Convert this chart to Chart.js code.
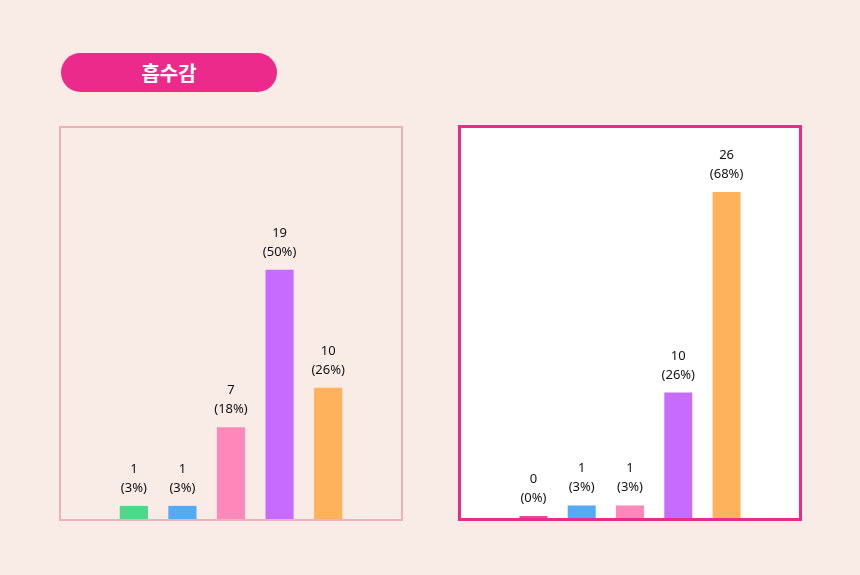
<!DOCTYPE html>
<html><head><meta charset="utf-8">
<script src="https://cdn.jsdelivr.net/npm/chart.js@4"></script>
<style>
body{margin:0;width:860px;height:575px;background:#f9ebe6;position:relative;overflow:hidden;font-family:"Noto Sans CJK KR","Noto Sans",sans-serif}
.pill{position:absolute;left:61px;top:53px;width:216px;height:39px;border-radius:20px;background:#ec2a8c;color:#fff;font-weight:bold;font-size:20px;line-height:39px;text-align:center}
.panel{position:absolute;box-sizing:border-box}
#p1{left:59px;top:126px;width:344px;height:395px;border:2px solid #eab3b6;background:#f9ebe6}
#p2{left:458px;top:125px;width:344px;height:396px;border:3px solid #ec2a8c;background:#fff}
canvas{display:block}
</style></head><body>
<div class="pill">흡수감</div>
<div class="panel" id="p1"><canvas id="c1"></canvas></div>
<div class="panel" id="p2"><canvas id="c2"></canvas></div>
<script>
const categories=["","A","B","C","D","E",""];
const leftValues=[null,1,1,7,19,10,null];
const leftPct=["","3%","3%","18%","50%","26%",""];
const rightValues=[null,0,1,1,10,26,null];
const rightPct=["","0%","3%","3%","26%","68%",""];
const leftColors=["#000","#4cd98a","#55aaf5","#ff88bb","#c76bff","#ffb25c","#000"];
const rightColors=["#000","#f0449c","#55aaf5","#ff88bb","#c76bff","#ffb25c","#000"];
const labelPlugin={id:'lbl',afterDatasetsDraw(chart,args,opts){
 const ctx=chart.ctx,meta=chart.getDatasetMeta(0),ds=chart.data.datasets[0];
 ctx.save();ctx.fillStyle='#111';ctx.font='13px "Noto Sans",sans-serif';ctx.textAlign='center';
 meta.data.forEach((b,i)=>{const v=ds.data[i];if(v===null)return;
  const top=Math.min(b.y,b.base-2);
  ctx.fillText(String(v),b.x,top-33);ctx.fillText('('+opts.pct[i]+')',b.x,top-14);});
 ctx.restore();}};
function make(id,vals,cols,pct,max,w,h){
 const c=document.getElementById(id);c.width=w;c.height=h;c.style.width=w+'px';c.style.height=h+'px';
 new Chart(c,{type:'bar',data:{labels:categories,datasets:[{data:vals,backgroundColor:cols,barPercentage:0.58,categoryPercentage:1,minBarLength:2}]},
 options:{responsive:false,animation:false,layout:{padding:0},
  plugins:{legend:{display:false},tooltip:{enabled:false},lbl:{pct:pct}},
  scales:{x:{display:false},y:{display:false,min:0,max:max}}},plugins:[labelPlugin]});
}
make('c1',leftValues,leftColors,leftPct,29.8,340,391);
make('c2',rightValues,rightColors,rightPct,31.1,338,390);
</script></body></html>
